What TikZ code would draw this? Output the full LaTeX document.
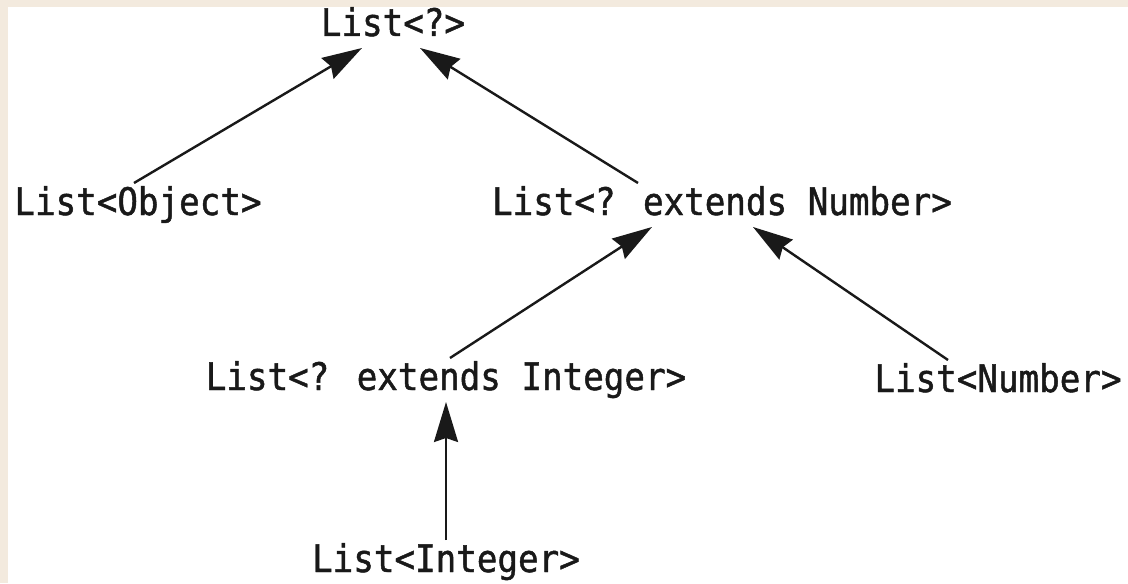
\documentclass[tikz,border=0pt]{standalone}
\usepackage{fontspec}
\usetikzlibrary{positioning,arrows.meta}
\newfontfamily\codefont{DejaVu Sans Mono}[FakeStretch=0.9,FakeBold=1.2]
\definecolor{paper}{RGB}{243,234,222}
\definecolor{ink}{RGB}{25,25,25}

\tikzset{
  type/.style={inner sep=0pt, outer sep=2pt, text height=14pt, text depth=4pt,
    font=\codefont\fontsize{19pt}{22pt}\selectfont, text=ink},
  isa/.style={-{Stealth[length=20pt,width=12pt,inset=2pt]}, line width=1.2pt, draw=ink}
}

\begin{document}
\begin{tikzpicture}[x=0.5pt,y=-0.5pt]
  % page and frame
  \fill[paper] (0,0) rectangle (1128,583);
  \fill[white] (8,7) rectangle (1128,583);
  \useasboundingbox (0,0) rectangle (1128,583);

  \node (top) [type, anchor=base] at (393,36) {List<?>};
  \node (obj) [type, below left=89.5pt and 127.5pt of top.base, anchor=base] {List<Object>};
  \node (numext) [type, below right=89.5pt and 164.5pt of top.base, anchor=base] {List<? extends Number>};
  \node (intext) [type, below left=87.5pt and 138pt of numext.base, anchor=base] {List<? extends Integer>};
  \node (number) [type, below right=88.5pt and 138pt of numext.base, anchor=base] {List<Number>};
  \node (integer) [type, below=91pt of intext.base, anchor=base] {List<Integer>};

  \draw[isa] ([xshift=-2pt]obj.north) -- ([xshift=-15.5pt]top.south);
  \draw[isa] ([xshift=-42pt]numext.north) -- ([xshift=13.5pt]top.south);
  \draw[isa] ([xshift=2pt]intext.north) -- ([xshift=-35pt]numext.south);
  \draw[isa] ([xshift=-25pt]number.north) -- ([xshift=15.5pt]numext.south);
  \draw[isa] (integer.north) -- (intext.south);
\end{tikzpicture}
\end{document}
